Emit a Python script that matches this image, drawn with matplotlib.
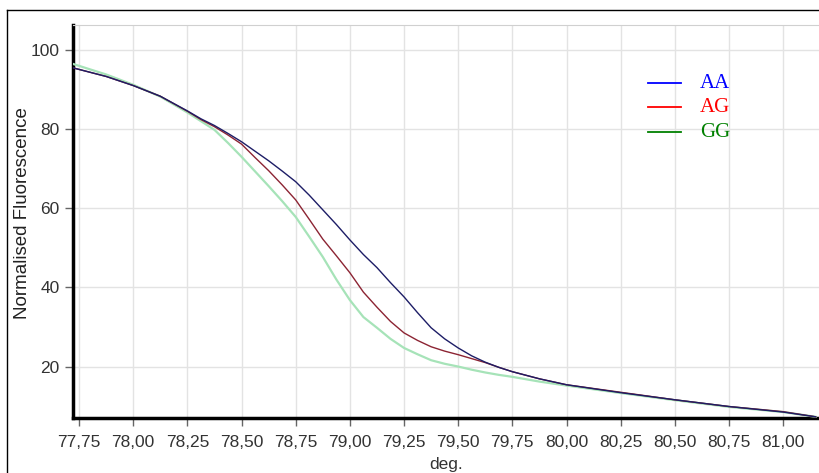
import numpy as np
import matplotlib
matplotlib.use('Agg')
from matplotlib import pyplot as plt
from matplotlib.lines import Line2D

# melt curve readings (deg. vs normalised fluorescence)
temps = [77.72, 77.875, 78.0, 78.125, 78.25, 78.3125, 78.375, 78.4375, 78.5,
         78.5625, 78.625, 78.6875, 78.75, 78.8125, 78.875, 78.9375, 79.0,
         79.0625, 79.125, 79.1875, 79.25, 79.3125, 79.375, 79.4375, 79.5,
         79.5625, 79.625, 79.6875, 79.75, 79.875, 80.0, 80.25, 80.5, 80.75,
         81.0, 81.15]
aa = [95.5, 93.3, 91.0, 88.3, 84.6, 82.6, 80.9, 78.9, 76.8,
      74.4, 72.0, 69.4, 66.7, 63.3, 59.6, 55.9, 52.0,
      48.3, 45.0, 41.2, 37.6, 33.6, 29.8, 27.0, 24.7,
      22.7, 21.1, 19.8, 18.7, 16.9, 15.4, 13.4, 11.6, 9.9,
      8.5, 7.3]
ag = [95.5, 93.3, 91.0, 88.3, 84.5, 82.4, 80.6, 78.5, 76.2,
      72.8, 69.5, 65.9, 62.1, 57.2, 52.2, 48.0, 43.7,
      38.8, 35.0, 31.4, 28.5, 26.6, 25.0, 23.9, 23.0,
      22.0, 21.0, 19.8, 18.7, 16.9, 15.4, 13.5, 11.6, 9.9,
      8.6, 7.3]
gg = [96.5, 93.8, 91.2, 88.2, 84.2, 82.0, 79.8, 76.5, 73.0,
      69.3, 65.6, 61.8, 57.8, 52.8, 47.7, 42.0, 36.8,
      32.5, 29.8, 27.0, 24.7, 23.1, 21.6, 20.7, 20.0,
      19.2, 18.5, 17.9, 17.4, 16.2, 15.2, 13.3, 11.5, 9.8,
      8.5, 7.3]

xticks = [77.75, 78.0, 78.25, 78.5, 78.75, 79.0, 79.25, 79.5, 79.75,
          80.0, 80.25, 80.5, 80.75, 81.0]
yticks = [20, 40, 60, 80, 100]
names = ['AA', 'AG', 'GG']
key_colors = ['#0000ff', '#ff0000', '#008000']

plt.rcParams['font.family'] = ['Liberation Sans', 'DejaVu Sans']

fig = plt.figure(figsize=(8.2, 4.73), dpi=100)
W, H = 820, 473
ax = fig.add_axes([73 / W, 1 - 418 / H, 1 - 73 / W, (418 - 25) / H])

# outer frame (only left/top visible in the crop)
fig.add_artist(Line2D([7 / W, 7 / W], [0, 1 - 10 / H], transform=fig.transFigure,
                      color='black', lw=1))
fig.add_artist(Line2D([7 / W, 1], [1 - 10 / H, 1 - 10 / H], transform=fig.transFigure,
                      color='black', lw=1))

ax.plot(temps, gg, color='#a6e3b8', lw=1.6, zorder=3)
ax.plot(temps, ag, color='#8c2433', lw=1.0, zorder=4)
ax.plot(temps, aa, color='#1d1d66', lw=1.0, zorder=5)

ax.set_xlim(77.722, 81.17)
ax.set_ylim(7.0, 106.3)
ax.set_xticks(xticks)
ax.set_xticklabels([('%.2f' % t).replace('.', ',') for t in xticks])
ax.set_yticks(yticks)
ax.grid(True, color='#e3e3e3', lw=1)
ax.set_axisbelow(True)

ax.spines['left'].set_linewidth(2.5)
ax.spines['bottom'].set_linewidth(2.5)
ax.spines['right'].set_visible(False)
ax.spines['top'].set_color('#d0d0d0')
ax.tick_params(direction='out', length=6, color='#666666', labelcolor='#333333',
               labelsize=12.5, width=1)
ax.tick_params(axis='x', pad=6)

ax.set_xlabel('deg.', fontsize=12.5, color='#333333', labelpad=5)
ax.set_ylabel('Normalised Fluorescence', fontsize=13.5, color='#222222')
ax.yaxis.set_label_coords(-42 / 747, 0.522)

# key in the upper right
for i, (nm, c) in enumerate(zip(names, key_colors)):
    yy = 1 - (83 + 24.5 * i) / H
    fig.add_artist(Line2D([648 / W, 681 / W], [yy, yy], transform=fig.transFigure,
                          color=c, lw=1.3))
    fig.text(700 / W, yy, nm, color=c, fontsize=15, family='Liberation Serif',
             va='center', ha='left')

fig.savefig('out.png', dpi=100)
